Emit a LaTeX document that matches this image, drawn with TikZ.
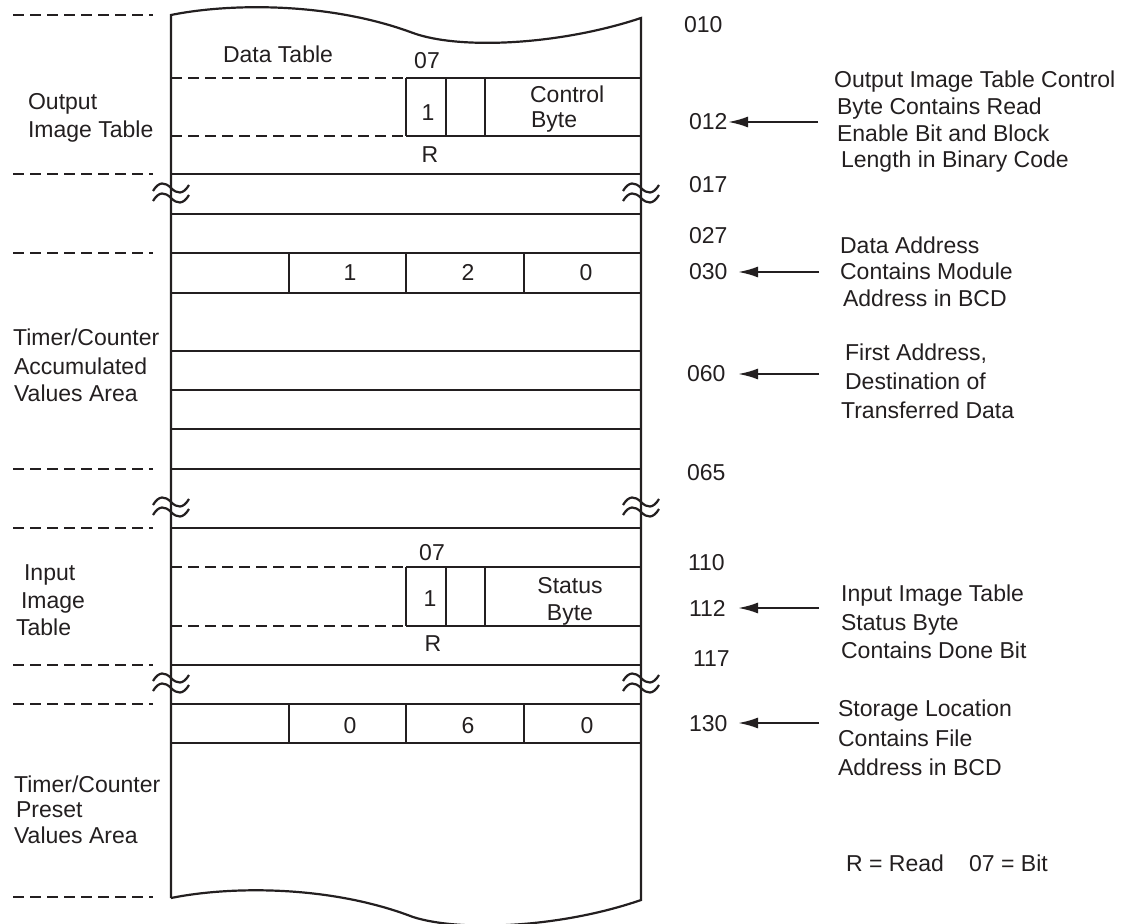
\documentclass[tikz,border=0pt]{standalone}
\usepackage{fontspec}
\setmainfont{Liberation Sans}
\usetikzlibrary{arrows.meta}
\definecolor{ink}{RGB}{35,31,32}
\newcommand{\txl}[4]{\node[lab] (#1) at (#2,#3+8) {#4};}
\newcommand{\txc}[4]{\node[ctr] (#1) at (#2,#3+8) {#4};}
\newcommand{\brkmark}[2]{%
  \begin{scope}[shift={(#1,#2)}]
    \draw (-18,-2) .. controls (-12,-12) and (-6,-11) .. (0,-5) .. controls (6,1) and (12,2) .. (18,-8);
    \draw (-18,8) .. controls (-12,-2) and (-6,-1) .. (0,5) .. controls (6,11) and (12,12) .. (18,2);
  \end{scope}}
\begin{document}
\begin{tikzpicture}[x=0.5pt,y=-0.5pt,line width=1.1pt,draw=ink,
  font=\fontsize{11.5}{13.8}\selectfont,
  every node/.style={inner sep=0pt,text=ink},
  lab/.style={anchor=base west},
  ctr/.style={anchor=base},
  dashline/.style={dash pattern=on 5.5pt off 3pt},
  arr/.style={-{Latex[length=10pt,width=5.5pt]}}]
\useasboundingbox (0,0) rectangle (1138,924);

% ---- main sheet outline
\draw (171,898) -- (171,15) .. controls (230,3) and (330,2) .. (413,33)
      .. controls (460,50) and (560,45) .. (641,18) -- (641,900)
      .. controls (560,928) and (460,932) .. (413,917)
      .. controls (330,885) and (230,886) .. (171,898);

% ---- solid full-width rows
\foreach \yy in {174,214,253,293,351,390,429,469,528,665,704,743}
  \draw (171,\yy) -- (641,\yy);

% ---- rows with dashed left part
\foreach \yy in {78,136,567,626}{
  \draw[dashline] (171,\yy) -- (406,\yy);
  \draw (406,\yy) -- (641,\yy);
}

% ---- bit cells
\foreach \yt/\yb in {78/136,567/626}
  \foreach \xx in {406,446,485}
    \draw (\xx,\yt) -- (\xx,\yb);
% ---- BCD cells
\foreach \yt/\yb in {253/293,704/743}
  \foreach \xx in {289,406,524}
    \draw (\xx,\yt) -- (\xx,\yb);

% ---- outside dashed markers
\foreach \yy in {15,174,253,469,528,665,704,897}
  \draw[dashline] (13,\yy) -- (153,\yy);

% ---- break marks
\foreach \yy in {193,507,683}{
  \brkmark{171}{\yy}
  \brkmark{641}{\yy}
}

% ---- texts inside the sheet
\txc{dt}{278}{55}{Data Table}
\txc{b07a}{427}{61}{07}
\txc{one1}{428}{113}{1}
\txc{ra}{430}{155}{R}
\txl{ctl1}{529}{95}{Control}
\txl{ctl2}{530}{120}{Byte}
\txc{b07b}{432}{552}{07}
\txc{one2}{430}{598}{1}
\txc{rb}{433}{643}{R}
\txc{st1}{570}{585}{Status}
\txc{st2}{570}{612}{Byte}
\txc{d1}{350}{273}{1}
\txc{d2}{468}{273}{2}
\txc{d3}{586}{273}{0}
\txc{e1}{350}{725}{0}
\txc{e2}{468}{725}{6}
\txc{e3}{587}{725}{0}

% ---- left labels
\txl{oit1}{27}{102}{Output}
\txl{oit2}{27}{130}{Image Table}
\txl{tca1}{12}{338}{Timer/Counter}
\txl{tca2}{13}{366}{Accumulated}
\txl{tca3}{13}{393}{Values Area}
\txl{iit1}{23}{572}{Input}
\txl{iit2}{20}{600}{Image}
\txl{iit3}{15}{627}{Table}
\txl{tcp1}{13}{784}{Timer/Counter}
\txl{tcp2}{15}{809}{Preset}
\txl{tcp3}{13}{835}{Values Area}

% ---- addresses
\txl{a010}{683}{25}{010}
\txl{a012}{688}{122}{012}
\txl{a017}{688}{185}{017}
\txl{a027}{688}{236}{027}
\txl{a030}{688}{272}{030}
\txl{a060}{686}{374}{060}
\txl{a065}{686}{472}{065}
\txl{a110}{687}{562}{110}
\txl{a112}{688}{608}{112}
\txl{a117}{692}{658}{117}
\txl{a130}{688}{723}{130}

% ---- arrows
\coordinate (s012) at (818,122); \coordinate (t012) at (728,122);
\coordinate (s030) at (819,272); \coordinate (t030) at (738,272);
\coordinate (s060) at (819,374); \coordinate (t060) at (738,374);
\coordinate (s112) at (819,608); \coordinate (t112) at (738,608);
\coordinate (s130) at (819,723); \coordinate (t130) at (738,723);
\foreach \k in {012,030,060,112,130}
  \draw[arr] (s\k) -- (t\k);

% ---- right annotations
\txl{n1a}{833}{80}{Output Image Table Control}
\txl{n1b}{836}{107}{Byte Contains Read}
\txl{n1c}{836}{134}{Enable Bit and Block}
\txl{n1d}{840}{160}{Length in Binary Code}
\txl{n2a}{839}{246}{Data Address}
\txl{n2b}{839}{272}{Contains Module}
\txl{n2c}{842}{299}{Address in BCD}
\txl{n3a}{844}{353}{First Address,}
\txl{n3b}{844}{382}{Destination of}
\txl{n3c}{840}{410}{Transferred Data}
\txl{n4a}{840}{593}{Input Image Table}
\txl{n4b}{840}{622}{Status Byte}
\txl{n4c}{840}{650}{Contains Done Bit}
\txl{n5a}{837}{708}{Storage Location}
\txl{n5b}{837}{738}{Contains File}
\txl{n5c}{837}{767}{Address in BCD}
\txl{legend}{845}{863}{R = Read\hspace{1.1em}07 = Bit}
\end{tikzpicture}
\end{document}
